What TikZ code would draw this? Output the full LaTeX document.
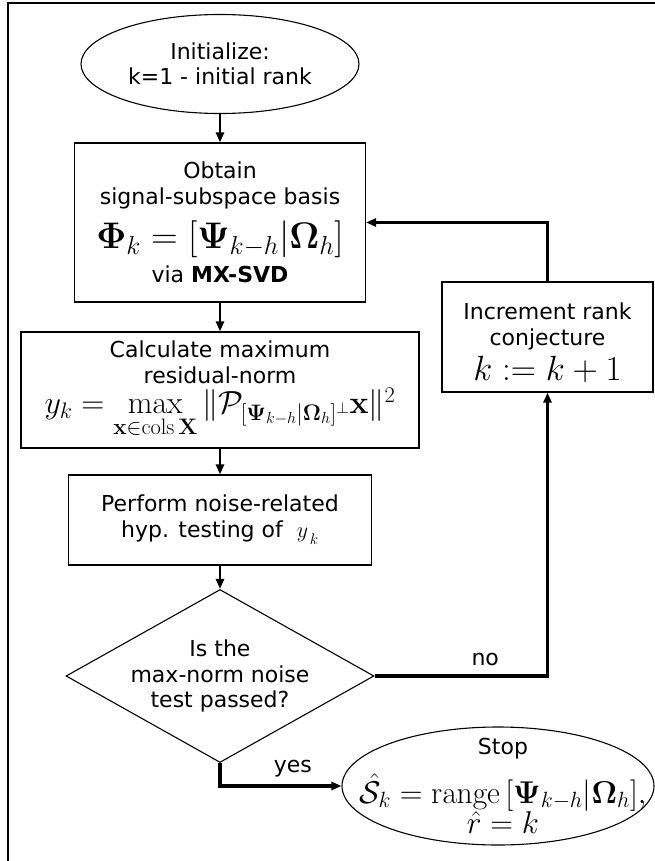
\RequirePackage{fix-cm}
\documentclass[tikz,border=0pt]{standalone}
\usepackage[no-math]{fontspec}
\setsansfont{DejaVu Sans}
\usepackage{amsmath}
\usepackage{amssymb}
\usetikzlibrary{shapes}
\usetikzlibrary{arrows.meta}

\begin{document}
\begin{tikzpicture}[
  x=1pt, y=-1pt,
  font=\sffamily\fontsize{22}{25.5}\selectfont,
  terminal/.style={draw, ellipse, inner sep=0pt, align=center, line width=1.1pt},
  process/.style={draw, rectangle, inner sep=0pt, align=center, line width=1.1pt},
  decision/.style={draw, diamond, aspect=1.78, inner sep=0pt, align=center, line width=1.1pt},
  arr/.style={line width=2.6pt, -{Triangle[length=10pt,width=8pt]}},
  loop/.style={arr, line width=3.4pt},
]
\useasboundingbox (0,0) rectangle (655,861);
\draw[line width=1.1pt] (8,861) |- (655,3);

\node (start) [terminal, minimum width=278, minimum height=99] at (220,64)
  {Initialize:\\ k=1 - initial rank};
\node (obtain) [process, minimum width=291, minimum height=159] at (220,222.5)
  {Obtain\\ signal-subspace basis\\[11pt]
   {\fontsize{37}{40}\selectfont $\boldsymbol{\Phi}_k=[\boldsymbol{\Psi}_{k-h}|\boldsymbol{\Omega}_h]$}\\[7pt]
   via \textbf{MX-SVD}};
\node (calc) [process, minimum width=398, minimum height=116] at (220,390)
  {Calculate maximum\\ residual-norm\\[3pt]
   {\fontsize{32}{36}\selectfont $y_k=\max\limits_{\mathbf{x}\in\mathrm{cols}\,\mathbf{X}}\|\mathcal{P}_{[\boldsymbol{\Psi}_{k-h}|\boldsymbol{\Omega}_h]^\perp}\mathbf{x}\|^2$}};
\node (perform) [process, minimum width=303, minimum height=90] at (220,520)
  {Perform noise-related\\ hyp. testing of ~$y_{\,\raisebox{-4pt}{$\scriptstyle k$}}$};
\node (test) [decision, minimum width=308, minimum height=173] at (220,676)
  {Is the\\ max-norm noise\\ test passed?};
\node (incr) [process, minimum width=211, minimum height=110,
  label={[align=center, yshift=-6pt]center:{Increment rank\\ conjecture\\[6pt]
   {\fontsize{35}{38}\selectfont $k:=k+1$}}}] at (547.5,337) {};
\node (stop) [terminal, minimum width=312, minimum height=118,
  label={[align=center, xshift=5pt]center:{Stop\\[13pt]
   {\fontsize{31.5}{34}\selectfont $\hat{\mathcal{S}}_k=\mathrm{range}\,[\boldsymbol{\Psi}_{k-h}|\boldsymbol{\Omega}_h],$}\\
   {\fontsize{31.5}{34}\selectfont $\hat{r}=k$}}}] at (498,786) {};

\draw[arr] (start.south) -- (obtain.north);
\draw[arr] (obtain.south) -- (calc.north);
\draw[arr] (calc.south) -- (perform.north);
\draw[arr] (perform.south) -- (test.north);
\draw[loop] (test.east) -| node[pos=0.32, above=5pt] {no} (incr.south);
\draw[loop] (incr.north) |- (obtain.east);
\draw[loop] (test.south) |- node[pos=0.8, above=4pt] {yes} (stop.west);
\end{tikzpicture}
\end{document}
